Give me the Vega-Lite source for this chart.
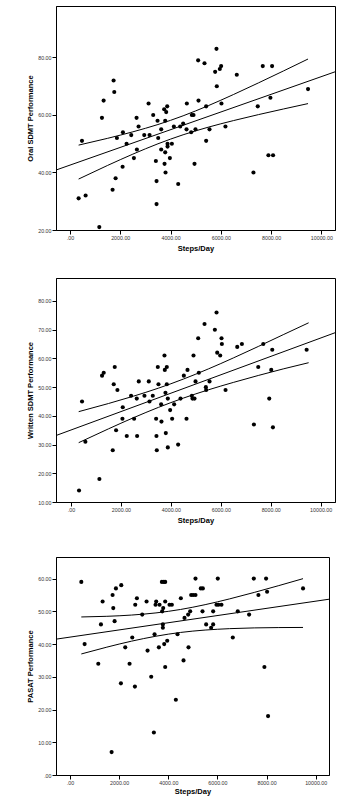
{
  "$schema": "https://vega.github.io/schema/vega-lite/v6.json",
  "padding": {"left": 26, "top": 5, "right": 0, "bottom": 0},
  "background": "#ffffff",
  "config": {
    "font": "Liberation Sans",
    "view": {"stroke": "#000000", "strokeWidth": 1},
    "axis": {
      "grid": false,
      "domainColor": "#000000",
      "tickColor": "#000000",
      "labelColor": "#333333",
      "labelFont": "Liberation Sans",
      "labelFontSize": 5.3,
      "labelOverlap": false,
      "labelFlush": false,
      "titleFont": "Liberation Sans",
      "titleFontSize": 7.5,
      "titleFontWeight": "bold",
      "titleColor": "#000000",
      "tickSize": 4,
      "tickCount": 20,
      "labelPadding": 1
    },
    "axisX": {"titlePadding": 4},
    "axisY": {"titlePadding": 3}
  },
  "datasets": {
    "p1": [
      {"x":477,"y":51},{"x":344,"y":31},{"x":622,"y":32},{"x":1166,"y":21},{"x":1272,"y":59},{"x":1338,"y":65},{"x":1735,"y":72},{"x":1762,"y":68},{"x":1695,"y":34},{"x":1815,"y":38},{"x":1867,"y":52},{"x":2093,"y":42},{"x":2106,"y":54},{"x":2252,"y":50},{"x":2437,"y":53},{"x":2543,"y":45},{"x":2649,"y":59},{"x":2662,"y":48},{"x":2728,"y":56},{"x":2954,"y":53},{"x":3126,"y":64},{"x":3166,"y":53},{"x":3311,"y":60},{"x":3483,"y":58},{"x":3510,"y":52},{"x":3417,"y":44},{"x":3444,"y":37},{"x":3444,"y":29},{"x":3629,"y":55},{"x":3629,"y":48},{"x":3748,"y":62},{"x":3788,"y":58},{"x":3828,"y":61},{"x":3868,"y":63},{"x":3788,"y":47},{"x":3762,"y":43},{"x":3801,"y":40},{"x":3881,"y":50},{"x":3881,"y":49},{"x":4053,"y":50},{"x":3974,"y":45},{"x":4133,"y":56},{"x":4305,"y":36},{"x":4384,"y":56},{"x":4503,"y":57},{"x":4636,"y":55},{"x":4649,"y":64},{"x":4821,"y":54},{"x":4848,"y":60},{"x":4914,"y":60},{"x":4993,"y":55},{"x":4954,"y":43},{"x":5099,"y":79},{"x":5113,"y":65},{"x":5351,"y":78},{"x":5417,"y":63},{"x":5417,"y":51},{"x":5550,"y":55},{"x":5775,"y":75},{"x":5828,"y":83},{"x":5841,"y":70},{"x":5960,"y":76},{"x":6013,"y":77},{"x":6026,"y":64},{"x":6185,"y":56},{"x":6636,"y":74},{"x":7298,"y":40},{"x":7470,"y":63},{"x":7669,"y":77},{"x":7894,"y":46},{"x":7974,"y":66},{"x":8040,"y":77},{"x":8079,"y":46},{"x":9470,"y":69}
    ],
    "p2": [
      {"x":441,"y":45},{"x":321,"y":14},{"x":575,"y":31},{"x":1136,"y":18},{"x":1243,"y":54},{"x":1310,"y":55},{"x":1751,"y":57},{"x":1711,"y":51},{"x":1671,"y":28},{"x":1805,"y":35},{"x":1858,"y":49},{"x":2072,"y":43},{"x":2059,"y":39},{"x":2233,"y":33},{"x":2406,"y":47},{"x":2527,"y":39},{"x":2633,"y":46},{"x":2647,"y":33},{"x":2714,"y":52},{"x":2941,"y":47},{"x":3115,"y":52},{"x":3142,"y":45},{"x":3275,"y":47},{"x":3409,"y":39},{"x":3422,"y":33},{"x":3436,"y":28},{"x":3476,"y":57},{"x":3503,"y":51},{"x":3610,"y":44},{"x":3623,"y":38},{"x":3743,"y":61},{"x":3757,"y":56},{"x":3783,"y":48},{"x":3797,"y":34},{"x":3837,"y":57},{"x":3837,"y":51},{"x":3877,"y":46},{"x":3877,"y":29},{"x":3971,"y":42},{"x":4051,"y":39},{"x":4131,"y":44},{"x":4291,"y":30},{"x":4385,"y":46},{"x":4519,"y":54},{"x":4626,"y":39},{"x":4666,"y":56},{"x":4840,"y":47},{"x":4866,"y":46},{"x":4906,"y":61},{"x":4947,"y":46},{"x":4987,"y":52},{"x":5094,"y":67},{"x":5120,"y":55},{"x":5348,"y":72},{"x":5401,"y":50},{"x":5414,"y":49},{"x":5548,"y":52},{"x":5762,"y":70},{"x":5829,"y":76},{"x":5856,"y":62},{"x":5976,"y":61},{"x":6029,"y":67},{"x":6043,"y":65},{"x":6190,"y":49},{"x":6658,"y":64},{"x":6845,"y":65},{"x":7326,"y":37},{"x":7500,"y":57},{"x":7701,"y":65},{"x":7941,"y":46},{"x":8021,"y":56},{"x":8061,"y":63},{"x":8088,"y":36},{"x":9438,"y":63}
    ],
    "p3": [
      {"x":461,"y":59},{"x":596,"y":40},{"x":1152,"y":34},{"x":1260,"y":46},{"x":1328,"y":53},{"x":1694,"y":7},{"x":1734,"y":55},{"x":1762,"y":51},{"x":1816,"y":47},{"x":1870,"y":57},{"x":2073,"y":28},{"x":2087,"y":58},{"x":2249,"y":39},{"x":2425,"y":34},{"x":2534,"y":42},{"x":2642,"y":27},{"x":2656,"y":52},{"x":2724,"y":54},{"x":2940,"y":49},{"x":3117,"y":53},{"x":3157,"y":38},{"x":3306,"y":30},{"x":3415,"y":13},{"x":3442,"y":43},{"x":3482,"y":52},{"x":3509,"y":53},{"x":3618,"y":39},{"x":3645,"y":52},{"x":3753,"y":50},{"x":3780,"y":46},{"x":3780,"y":45},{"x":3794,"y":51},{"x":3740,"y":59},{"x":3821,"y":59},{"x":3875,"y":59},{"x":3835,"y":40},{"x":3875,"y":53},{"x":3875,"y":33},{"x":3957,"y":41},{"x":4051,"y":52},{"x":4146,"y":52},{"x":4309,"y":23},{"x":4377,"y":43},{"x":4512,"y":54},{"x":4621,"y":35},{"x":4661,"y":48},{"x":4810,"y":49},{"x":4824,"y":39},{"x":4892,"y":50},{"x":4932,"y":55},{"x":5014,"y":55},{"x":5108,"y":60},{"x":5108,"y":55},{"x":5325,"y":57},{"x":5407,"y":57},{"x":5393,"y":50},{"x":5542,"y":46},{"x":5745,"y":45},{"x":5827,"y":46},{"x":5827,"y":50},{"x":5962,"y":52},{"x":6016,"y":60},{"x":6043,"y":52},{"x":6165,"y":52},{"x":6626,"y":42},{"x":6829,"y":50},{"x":7290,"y":49},{"x":7480,"y":60},{"x":7669,"y":55},{"x":7913,"y":33},{"x":7981,"y":60},{"x":8022,"y":56},{"x":8062,"y":18},{"x":9485,"y":57}
    ],
    "l1": [
      {"s":"fit","x":-556,"y":40.85},{"s":"fit","x":10543,"y":75.01},
      {"s":"upper","x":344,"y":49.52},{"s":"upper","x":1500,"y":51.89},{"s":"upper","x":2500,"y":54.14},{"s":"upper","x":3500,"y":56.68},{"s":"upper","x":4500,"y":59.71},{"s":"upper","x":5500,"y":63.23},{"s":"upper","x":6500,"y":67.10},{"s":"upper","x":7500,"y":71.17},{"s":"upper","x":8500,"y":75.34},{"s":"upper","x":9470,"y":79.46},
      {"s":"lower","x":344,"y":37.72},{"s":"lower","x":1500,"y":42.47},{"s":"lower","x":2500,"y":46.38},{"s":"lower","x":3500,"y":49.98},{"s":"lower","x":4500,"y":53.11},{"s":"lower","x":5500,"y":55.75},{"s":"lower","x":6500,"y":58.04},{"s":"lower","x":7500,"y":60.13},{"s":"lower","x":8500,"y":62.10},{"s":"lower","x":9470,"y":63.96}
    ],
    "l2": [
      {"s":"fit","x":-602,"y":33.15},{"s":"fit","x":10575,"y":68.94},
      {"s":"upper","x":307,"y":41.46},{"s":"upper","x":1500,"y":44.29},{"s":"upper","x":2500,"y":46.84},{"s":"upper","x":3500,"y":49.64},{"s":"upper","x":4500,"y":52.80},{"s":"upper","x":5500,"y":56.33},{"s":"upper","x":6500,"y":60.15},{"s":"upper","x":7500,"y":64.15},{"s":"upper","x":8500,"y":68.26},{"s":"upper","x":9519,"y":72.40},
      {"s":"lower","x":307,"y":30.66},{"s":"lower","x":1500,"y":35.47},{"s":"lower","x":2500,"y":39.34},{"s":"lower","x":3500,"y":42.94},{"s":"lower","x":4500,"y":46.18},{"s":"lower","x":5500,"y":49.05},{"s":"lower","x":6500,"y":51.63},{"s":"lower","x":7500,"y":54.05},{"s":"lower","x":8500,"y":56.34},{"s":"lower","x":9519,"y":58.50}
    ],
    "l3": [
      {"s":"fit","x":-569,"y":41.50},{"s":"fit","x":10542,"y":53.70},
      {"s":"upper","x":461,"y":48.28},{"s":"upper","x":1500,"y":48.48},{"s":"upper","x":2500,"y":48.86},{"s":"upper","x":3500,"y":49.52},{"s":"upper","x":4500,"y":50.57},{"s":"upper","x":5500,"y":52.04},{"s":"upper","x":6500,"y":53.81},{"s":"upper","x":7500,"y":55.78},{"s":"upper","x":8500,"y":57.86},{"s":"upper","x":9485,"y":59.98},
      {"s":"lower","x":461,"y":36.98},{"s":"lower","x":1500,"y":39.06},{"s":"lower","x":2500,"y":40.88},{"s":"lower","x":3500,"y":42.40},{"s":"lower","x":4500,"y":43.55},{"s":"lower","x":5500,"y":44.28},{"s":"lower","x":6500,"y":44.71},{"s":"lower","x":7500,"y":44.94},{"s":"lower","x":8500,"y":45.04},{"s":"lower","x":9485,"y":45.08}
    ]
  },
  "spacing": 31,
  "vconcat": [
    {
      "spacing": 24,
      "vconcat": [
        {
          "width": 279,
          "height": 224,
          "layer": [
            {
              "data": {"name": "p1"},
              "mark": {"type": "circle", "color": "#000000", "size": 17, "opacity": 1},
              "encoding": {
                "x": {"field": "x", "type": "quantitative", "scale": {"domain": [-556, 10543], "nice": false, "zero": false},
                  "axis": {"title": "Steps/Day", "tickCount": 20, "values": [0, 2000, 4000, 6000, 8000, 10000], "labelExpr": "datum.value == 0 ? '.00' : format(datum.value, '.2f')"}},
                "y": {"field": "y", "type": "quantitative", "scale": {"domain": [20, 97.9], "nice": false, "zero": false},
                  "axis": {"title": "Oral SDMT Performance", "tickCount": 20, "values": [20, 40, 60, 80], "labelExpr": "datum.value == 0 ? '.00' : format(datum.value, '.2f')"}}
              }
            },
            {
              "data": {"name": "l1"},
              "mark": {"type": "line", "color": "#000000", "strokeWidth": 1, "interpolate": "monotone", "clip": true},
              "encoding": {
                "x": {"field": "x", "type": "quantitative"},
                "y": {"field": "y", "type": "quantitative"},
                "detail": {"field": "s"}
              }
            }
          ]
        },
        {
          "width": 279,
          "height": 224,
          "layer": [
            {
              "data": {"name": "p2"},
              "mark": {"type": "circle", "color": "#000000", "size": 17, "opacity": 1},
              "encoding": {
                "x": {"field": "x", "type": "quantitative", "scale": {"domain": [-602, 10575], "nice": false, "zero": false},
                  "axis": {"title": "Steps/Day", "tickCount": 20, "values": [0, 2000, 4000, 6000, 8000, 10000], "labelExpr": "datum.value == 0 ? '.00' : format(datum.value, '.2f')"}},
                "y": {"field": "y", "type": "quantitative", "scale": {"domain": [10, 88], "nice": false, "zero": false},
                  "axis": {"title": "Written SDMT Performance", "tickCount": 20, "values": [10, 20, 30, 40, 50, 60, 70, 80], "labelExpr": "datum.value == 0 ? '.00' : format(datum.value, '.2f')"}}
              }
            },
            {
              "data": {"name": "l2"},
              "mark": {"type": "line", "color": "#000000", "strokeWidth": 1, "interpolate": "monotone", "clip": true},
              "encoding": {
                "x": {"field": "x", "type": "quantitative"},
                "y": {"field": "y", "type": "quantitative"},
                "detail": {"field": "s"}
              }
            }
          ]
        }
      ]
    },
    {
      "width": 273,
      "height": 218,
      "layer": [
        {
          "data": {"name": "p3"},
          "mark": {"type": "circle", "color": "#000000", "size": 17, "opacity": 1},
          "encoding": {
            "x": {"field": "x", "type": "quantitative", "scale": {"domain": [-569, 10542], "nice": false, "zero": false},
              "axis": {"title": "Steps/Day", "titlePadding": 2, "tickCount": 20, "values": [0, 2000, 4000, 6000, 8000, 10000], "labelExpr": "datum.value == 0 ? '.00' : format(datum.value, '.2f')"}},
            "y": {"field": "y", "type": "quantitative", "scale": {"domain": [0, 66.6], "nice": false, "zero": false},
              "axis": {"title": "PASAT Performance", "tickCount": 20, "values": [0, 10, 20, 30, 40, 50, 60], "labelExpr": "datum.value == 0 ? '.00' : format(datum.value, '.2f')"}}
          }
        },
        {
          "data": {"name": "l3"},
          "mark": {"type": "line", "color": "#000000", "strokeWidth": 1, "interpolate": "monotone", "clip": true},
          "encoding": {
            "x": {"field": "x", "type": "quantitative"},
            "y": {"field": "y", "type": "quantitative"},
            "detail": {"field": "s"}
          }
        }
      ]
    }
  ]
}
